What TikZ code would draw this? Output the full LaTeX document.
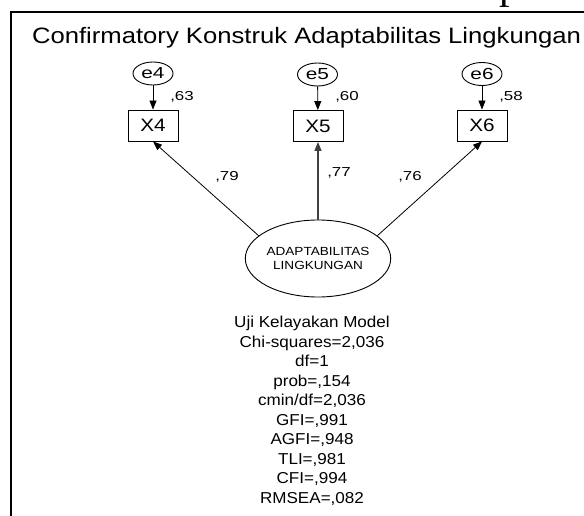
\documentclass[tikz,border=0pt]{standalone}
\usepackage{fontspec}
\usetikzlibrary{shapes.geometric,arrows.meta}
\setmainfont{Liberation Sans}
\newfontfamily\fTitle[FakeStretch=1.15]{Liberation Sans}
\newfontfamily\fBox[FakeStretch=1.15]{Liberation Sans}
\newfontfamily\fErr[FakeStretch=1.3]{Liberation Sans}
\newfontfamily\fLbl[FakeStretch=1.3]{Liberation Sans}
\newfontfamily\fStat[FakeStretch=1.08]{Liberation Sans}
\newfontfamily\fSerif{Liberation Serif}

\tikzset{
  errnode/.style={ellipse, draw, line width=0.9pt, minimum width=40pt, minimum height=23pt,
    inner sep=0pt, font=\fErr\fontsize{16}{18}\selectfont},
  obsbox/.style={rectangle, draw, line width=0.9pt, minimum width=50pt, minimum height=31pt,
    inner sep=0pt, font=\fBox\fontsize{18}{20}\selectfont},
  latent/.style={ellipse, draw, line width=0.9pt, minimum width=133pt, minimum height=77pt,
    inner sep=0pt, align=center, font=\fBox\fontsize{11.8}{13.5}\selectfont},
  wlabel/.style={inner sep=0pt, font=\fLbl\fontsize{13}{15}\selectfont},
  pathline/.style={line width=0.8pt, -{Triangle[length=9pt,width=7pt]}},
}

\begin{document}
\begin{tikzpicture}[x=1pt, y=-1pt]
  \useasboundingbox (0,0) rectangle (584,516);
  \clip (0,0) rectangle (584,516);

  % page fragment above the frame
  \node[anchor=base, inner sep=0pt, font=\fSerif\fontsize{42}{44}\selectfont] (pfrag) at (510,-1) {p};

  % frame
  \coordinate (fbl) at (11,530);
  \coordinate (ftl) at (11,12);
  \coordinate (ftr) at (600,12);
  \draw[line width=2pt] (fbl) -- (ftl) -- (ftr);

  % title
  \node[anchor=base, inner sep=0pt, font=\fTitle\fontsize{22.3}{26}\selectfont] (title) at (306.5,43.5)
    {Confirmatory Konstruk Adaptabilitas Lingkungan};

  % error terms
  \node[errnode] (e4) at (153,73.5) {e4};
  \node[errnode] (e5) at (317.5,74.5) {e5};
  \node[errnode] (e6) at (482,74) {e6};

  % observed indicators
  \node[obsbox] (X4) at (153,125.5) {X4};
  \node[obsbox] (X5) at (318,126) {X5};
  \node[obsbox] (X6) at (482,125.5) {X6};

  % latent construct
  \node[latent] (L) at (318,258.5) {ADAPTABILITAS\\LINGKUNGAN};

  % error paths
  \draw[pathline] (e4) -- (X4);
  \draw[pathline] (e5) -- (X5);
  \draw[pathline] (e6) -- (X6);

  % loadings
  \draw[pathline] (L.159) -- (X4.south);
  \draw[pathline, line width=1.3pt, draw=black!75] (L.north) -- (X5.south);
  \draw[pathline] (L.21) -- (X6.south);

  % squared multiple correlations
  \node[wlabel] (r4) at (182,97) {,63};
  \node[wlabel] (r5) at (347,97) {,60};
  \node[wlabel] (r6) at (511,97) {,58};

  % standardized loadings
  \node[wlabel] (l4) at (227,177) {,79};
  \node[wlabel] (l5) at (339,173) {,77};
  \node[wlabel] (l6) at (410,177) {,76};

  % fit statistics
  \node[align=center, inner sep=0pt, font=\fStat\fontsize{15.8}{19.5}\selectfont] (fit) at (312,411)
    {Uji Kelayakan Model\\Chi-squares=2,036\\df=1\\prob=,154\\cmin/df=2,036\\GFI=,991\\AGFI=,948\\TLI=,981\\CFI=,994\\RMSEA=,082};
\end{tikzpicture}
\end{document}
